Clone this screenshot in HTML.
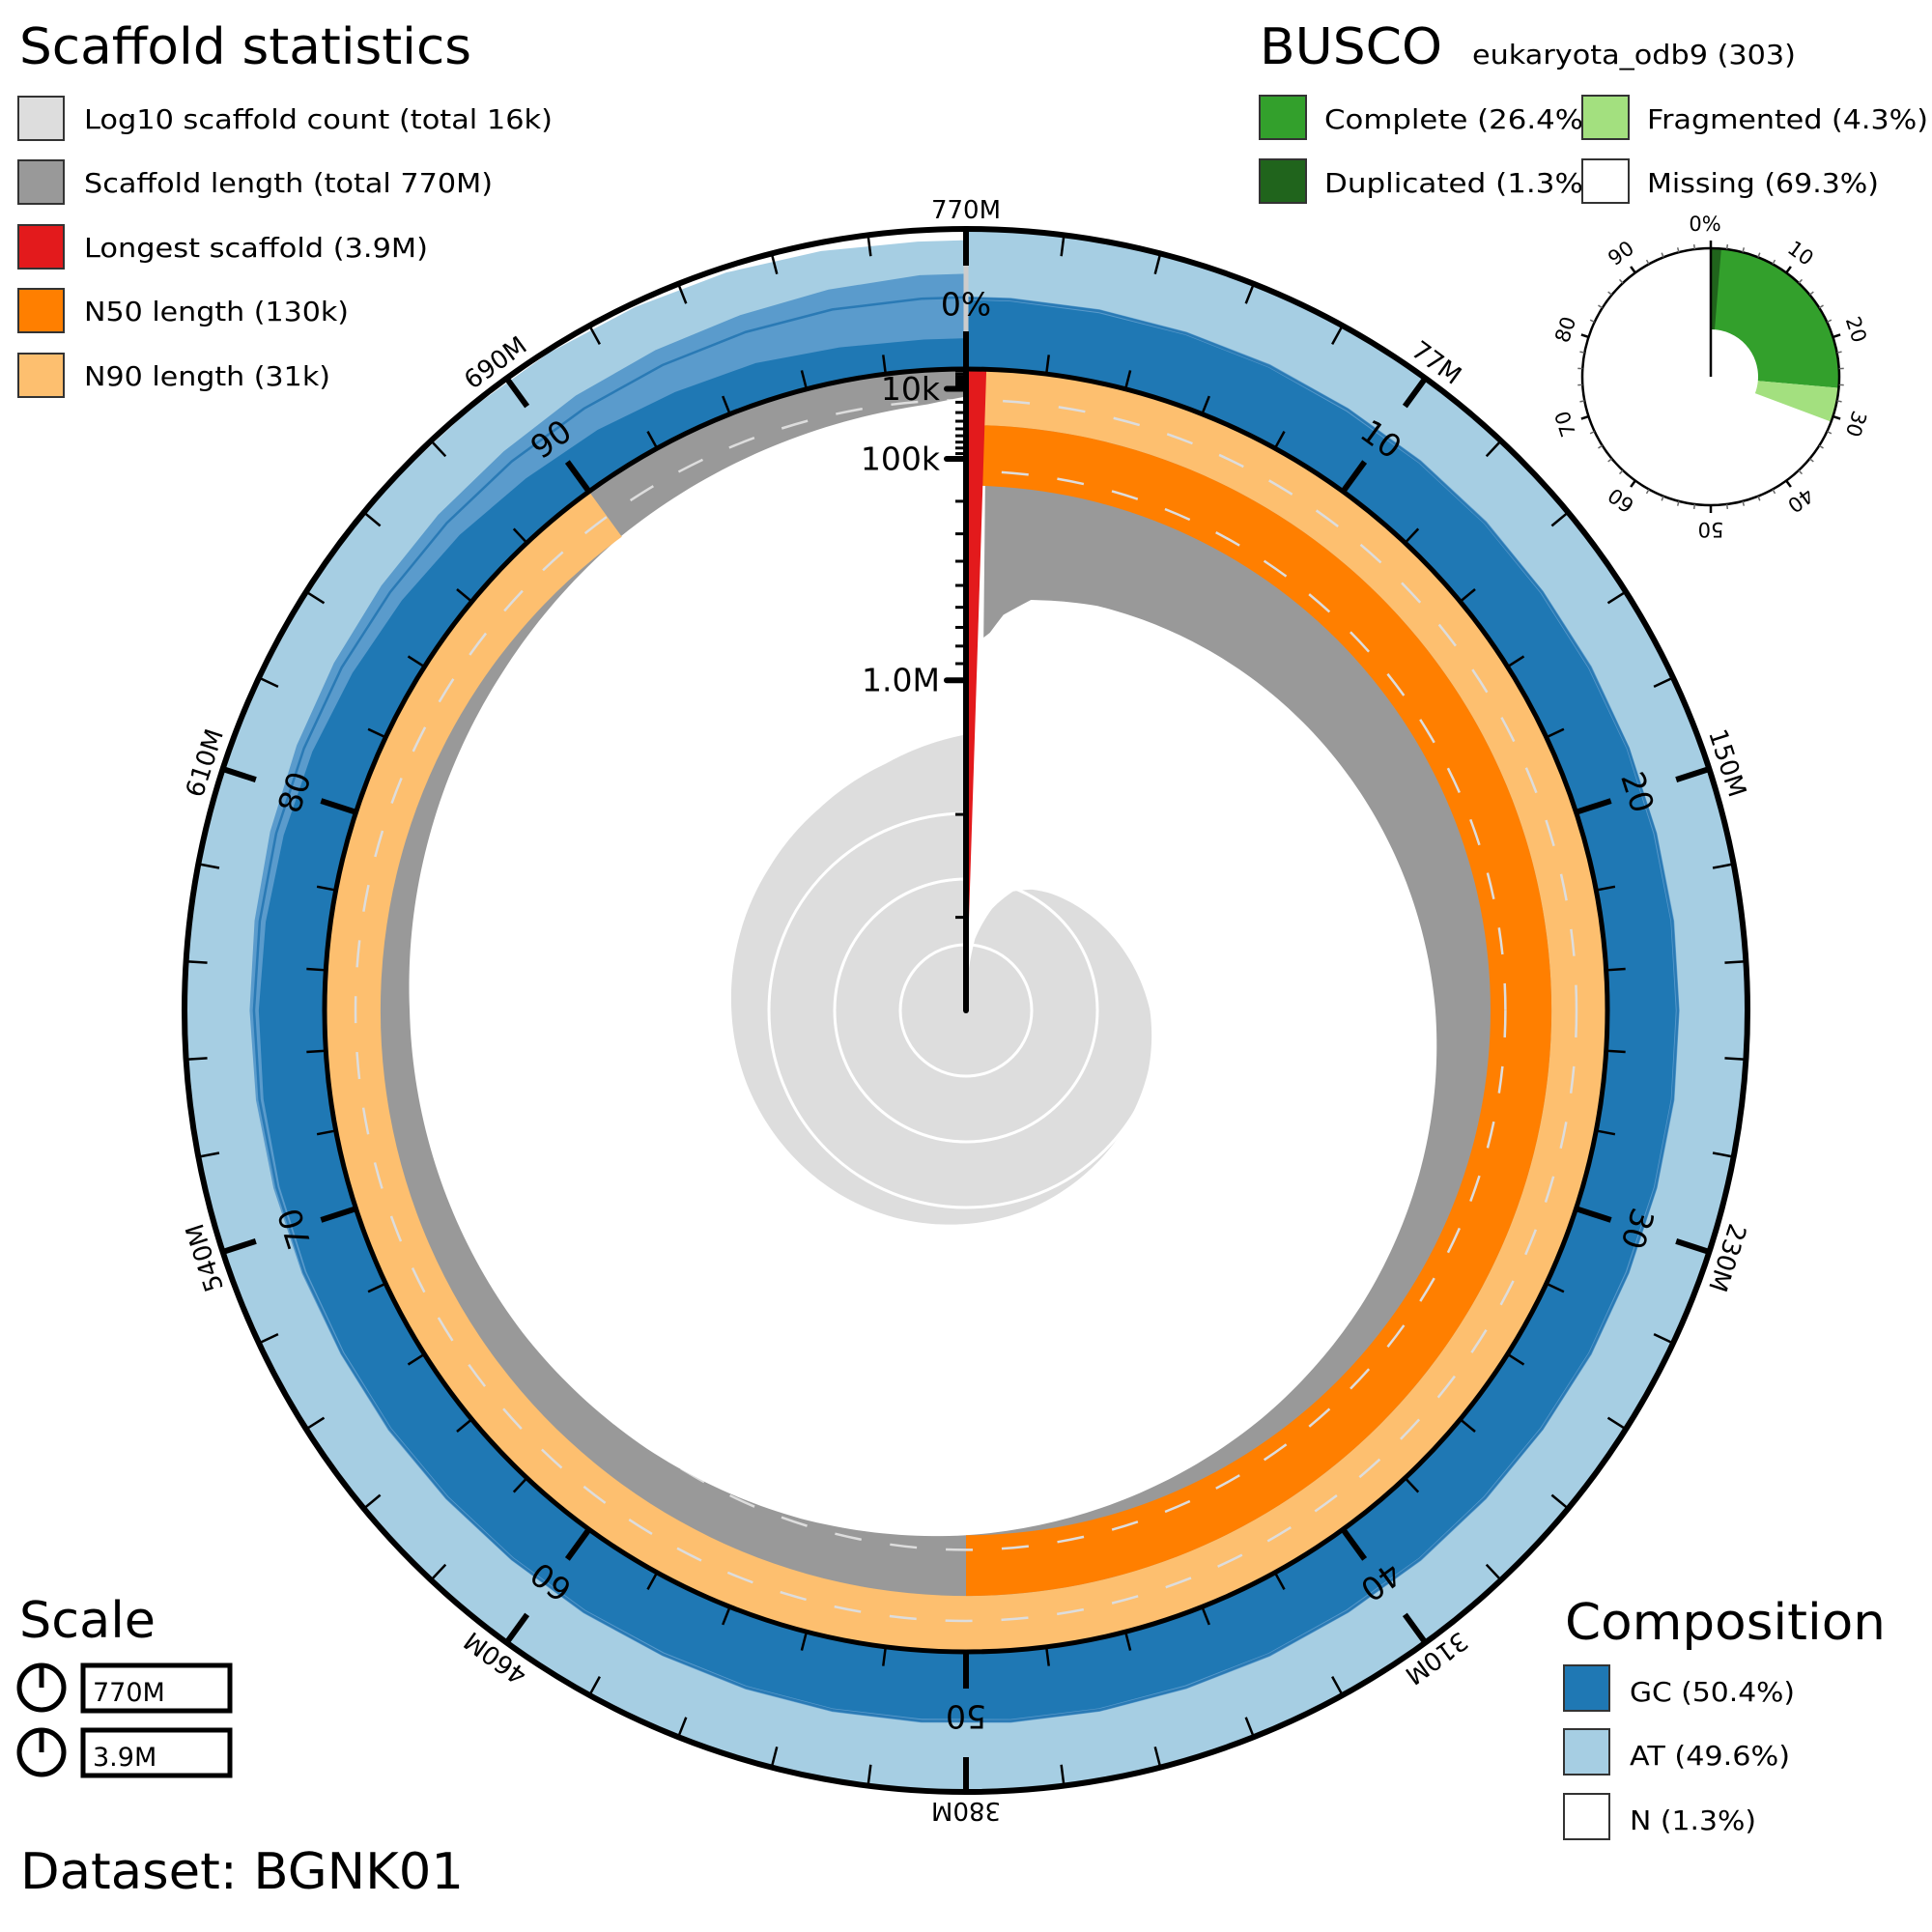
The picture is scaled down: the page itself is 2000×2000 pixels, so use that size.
<!DOCTYPE html>
<html><head><meta charset="utf-8">
<style>
html,body{margin:0;padding:0;background:#fff;}
svg{display:block;}
text{font-family:"DejaVu Sans","Liberation Sans",sans-serif;fill:#000;}
</style></head>
<body>
<svg id="chart" xmlns="http://www.w3.org/2000/svg" width="2000" height="2000" viewBox="0 0 2000 2000">
<rect width="2000" height="2000" fill="#fff"/>
<g id="plot"></g>

<g>
<text x="20" y="66" font-size="52" textLength="468" lengthAdjust="spacingAndGlyphs">Scaffold statistics</text>
<rect x="19" y="100" width="47" height="45" fill="#dddddd" stroke="#333" stroke-width="2"/>
<text x="87" y="133" font-size="28" textLength="485" lengthAdjust="spacingAndGlyphs">Log10 scaffold count (total 16k)</text>
<rect x="19" y="166" width="47" height="45" fill="#999999" stroke="#333" stroke-width="2"/>
<text x="87" y="199" font-size="28" textLength="423" lengthAdjust="spacingAndGlyphs">Scaffold length (total 770M)</text>
<rect x="19" y="233" width="47" height="45" fill="#e31a1c" stroke="#333" stroke-width="2"/>
<text x="87" y="266" font-size="28" textLength="356" lengthAdjust="spacingAndGlyphs">Longest scaffold (3.9M)</text>
<rect x="19" y="299" width="47" height="45" fill="#ff7f00" stroke="#333" stroke-width="2"/>
<text x="87" y="332" font-size="28" textLength="274" lengthAdjust="spacingAndGlyphs">N50 length (130k)</text>
<rect x="19" y="366" width="47" height="45" fill="#fdbf6f" stroke="#333" stroke-width="2"/>
<text x="87" y="399" font-size="28" textLength="255" lengthAdjust="spacingAndGlyphs">N90 length (31k)</text>
</g>

<g>
<text x="1304" y="66" font-size="52" textLength="189" lengthAdjust="spacingAndGlyphs">BUSCO</text>
<text x="1524" y="66" font-size="28" textLength="335" lengthAdjust="spacingAndGlyphs">eukaryota_odb9 (303)</text>
<text x="1371" y="133" font-size="28" textLength="280" lengthAdjust="spacingAndGlyphs">Complete (26.4%)</text>
<text x="1371" y="199" font-size="28" textLength="280" lengthAdjust="spacingAndGlyphs">Duplicated (1.3%)</text>
<rect x="1304" y="99" width="48" height="45" fill="#33a02c" stroke="#333" stroke-width="2"/>
<rect x="1304" y="165" width="48" height="45" fill="#20641c" stroke="#333" stroke-width="2"/>
<rect x="1638" y="99" width="48" height="45" fill="#a3e07f" stroke="#333" stroke-width="2"/>
<rect x="1638" y="165" width="48" height="45" fill="#ffffff" stroke="#333" stroke-width="2"/>
<text x="1705" y="133" font-size="28" textLength="291" lengthAdjust="spacingAndGlyphs">Fragmented (4.3%)</text>
<text x="1705" y="199" font-size="28" textLength="240" lengthAdjust="spacingAndGlyphs">Missing (69.3%)</text>
</g>

<g>
<text x="20" y="1695" font-size="52" textLength="141" lengthAdjust="spacingAndGlyphs">Scale</text>
<circle cx="43" cy="1747" r="23" fill="none" stroke="#000" stroke-width="5"/>
<line x1="43" y1="1747" x2="43" y2="1724" stroke="#000" stroke-width="5"/>
<rect x="86" y="1724" width="152" height="47" fill="#fff" stroke="#000" stroke-width="5"/>
<text x="96" y="1761" font-size="27">770M</text>
<circle cx="43" cy="1814" r="23" fill="none" stroke="#000" stroke-width="5"/>
<line x1="43" y1="1814" x2="43" y2="1791" stroke="#000" stroke-width="5"/>
<rect x="86" y="1791" width="152" height="47" fill="#fff" stroke="#000" stroke-width="5"/>
<text x="96" y="1828" font-size="27">3.9M</text>
</g>
<text x="21" y="1955" font-size="52" textLength="459" lengthAdjust="spacingAndGlyphs">Dataset: BGNK01</text>

<g>
<text x="1620" y="1697" font-size="52" textLength="332" lengthAdjust="spacingAndGlyphs">Composition</text>
<rect x="1619" y="1724" width="47" height="47" fill="#1f78b4" stroke="#333" stroke-width="2"/>
<text x="1687" y="1761" font-size="28" textLength="171" lengthAdjust="spacingAndGlyphs">GC (50.4%)</text>
<rect x="1619" y="1790" width="47" height="47" fill="#a6cee3" stroke="#333" stroke-width="2"/>
<text x="1687" y="1827" font-size="28" textLength="166" lengthAdjust="spacingAndGlyphs">AT (49.6%)</text>
<rect x="1619" y="1857" width="47" height="47" fill="#ffffff" stroke="#333" stroke-width="2"/>
<text x="1687" y="1894" font-size="28" textLength="131" lengthAdjust="spacingAndGlyphs">N (1.3%)</text>
</g>
<g id="busco"></g>
</svg>

<script>
// ---- data ----
const assemblyTickLabels = ["770M","77M","150M","230M","310M","380M","460M","540M","610M","690M"];
const percentTickLabels = ["0%","10","20","30","40","50","60","70","80","90"];
const longestScaffold = 3900000;
const totalLength = 770000000;
const n50Length = 130000;
const n90Length = 31000;
const lengthPct = [0.5, 0.7, 1, 1.5, 2.5, 5, 10, 15, 20, 25, 30, 35, 40, 45, 50, 55, 60, 65, 70, 75, 80, 85, 90, 95, 99, 100];
const lengthVals = [700000, 680000, 650000, 560000, 480000, 440000, 400000, 360000, 320000, 280000, 245000, 210000, 180000, 155000, 130000, 110000, 95000, 84000, 77000, 70000, 58000, 45000, 30000, 20000, 12000, 8000];
const countPct = [0, 1, 2, 4, 6, 8, 10, 15, 20, 25, 30, 35, 40, 45, 50, 55, 60, 65, 70, 75, 80, 85, 90, 95, 100];
const countLog10 = [0, 0.6, 1.1, 1.6, 1.95, 2.1, 2.2, 2.4, 2.6, 2.8, 2.92, 3.0, 3.08, 3.17, 3.25, 3.33, 3.4, 3.46, 3.52, 3.57, 3.63, 3.7, 3.8, 3.95, 4.2];
const lengthAxisMajor = [10000, 100000, 1000000];
const lengthAxisMajorLabels = ["10k", "100k", "1.0M"];
const lengthAxisMinor = [2000,3000,4000,5000,6000,7000,8000,9000,20000,30000,40000,50000,60000,70000,80000,90000,200000,300000,400000,500000,600000,700000,800000,900000,2000000,3000000];
const gcMean = [50.6,50.4,50.3,50.5,50.2,50.4,50.6,50.3,50.4,50.5,50.2,50.4,50.3,50.6,50.4,50.2,50.5,50.3,50.4,50.6,50.3,50.4,50.2,50.5,50.4,50.3,50.6,50.4,50.2,50.5,50.3,50.4,50.6,50.3,50.4,50.2,50.5,50.4,50.3,50.5,50.4,50.6,50.2,50.5,50.8,51.0,51.2,51.3,51.5,51.2];
const gcMin = [49.2,48.8,49.0,49.3,48.6,49.1,49.4,48.9,49.0,49.2,48.7,49.1,48.8,49.3,49.0,48.6,49.2,48.9,49.0,49.3,48.8,49.1,48.7,49.2,49.0,48.8,49.3,49.0,48.6,49.1,48.9,49.0,49.2,48.7,48.5,48.0,47.6,47.0,46.0,45.0,44.0,42.0,40.0,38.0,35.0,33.0,30.0,28.0,24.0,22.0];
const gcMax = [51.8,51.6,51.5,51.9,51.4,51.7,52.0,51.5,51.8,51.6,51.4,51.7,51.5,51.9,51.6,51.4,51.8,51.5,51.7,51.9,51.5,51.8,51.4,51.7,51.6,51.5,51.9,51.7,51.4,51.8,51.5,51.7,52.0,51.6,52.0,52.5,53.0,53.5,54.0,55.0,56.0,57.0,58.0,59.0,60.0,62.0,63.0,64.0,66.0,68.0];
const nPct = [0,0,0,0,0,0,0,0,0,0,0,0,0,0,0,0,0,0,0,0,0,0,0,0,0,0,0,0,0,0,0,0,0,0,0,0,0,0,0,0,0,0,0.5,1,1.5,2,3,4,6,8];
const buscoComplete = 26.4;
const buscoDuplicated = 1.3;
const buscoFragmented = 4.3;
const buscoTickLabels = ["0%","10","20","30","40","50","60","70","80","90"];

const NS = "http://www.w3.org/2000/svg";
const cx = 1000, cy = 1046, R_IN = 664, R_OUT = 809;
const plot = document.getElementById('plot');
function el(tag, attrs, parent){const e=document.createElementNS(NS,tag);for(const k in attrs)e.setAttribute(k,attrs[k]);(parent||plot).appendChild(e);return e;}
function pt(r,p,x0,y0){x0=x0===undefined?cx:x0;y0=y0===undefined?cy:y0;const a=p/100*2*Math.PI;return [x0+r*Math.sin(a), y0-r*Math.cos(a)];}
function f(v){return v.toFixed(2);}
function interp(xs,ys,x){if(x<=xs[0])return ys[0];for(let i=1;i<xs.length;i++){if(x<=xs[i]){const t=(x-xs[i-1])/(xs[i]-xs[i-1]);return ys[i-1]+t*(ys[i]-ys[i-1]);}}return ys[ys.length-1];}
function rLen(L){return Math.max(0, Math.min(R_IN, 666 - 672*Math.sqrt(L/longestScaffold)));}
function rAxis(L){return Math.max(0, Math.min(R_IN, 677 - 662*Math.sqrt(L/longestScaffold)));}
function sector(r0,r1,p0,p1,x0,y0){
  const large=(p1-p0)>50?1:0;
  const a=pt(r1,p0,x0,y0),b=pt(r1,p1,x0,y0),c=pt(r0,p1,x0,y0),d=pt(r0,p0,x0,y0);
  let s=`M${f(a[0])},${f(a[1])} A${r1},${r1} 0 ${large} 1 ${f(b[0])},${f(b[1])} `;
  if(r0>0) s+=`L${f(c[0])},${f(c[1])} A${r0},${r0} 0 ${large} 0 ${f(d[0])},${f(d[1])} Z`;
  else s+=`L${f(x0===undefined?cx:x0)},${f(y0===undefined?cy:y0)} Z`;
  return s;
}
function gcR(v){return R_IN + (R_OUT-R_IN)*v/100;}

{
  let d=`M${cx},${cy} `;
  for(let p=0;p<=100.001;p+=0.25){const r=68*interp(countPct,countLog10,p);const q=pt(r,p);d+=`L${f(q[0])},${f(q[1])} `;}
  d+='Z';
  const s=el('path',{d:d,fill:'#dddddd'});
  
  
  [1,2,3].forEach(k=>{
    const c=el('circle',{cx:cx,cy:cy,r:68*k,fill:'none',stroke:'#fff','stroke-width':3});
    
    
  });
}

const p0 = longestScaffold/totalLength*100;
let lenPath;
{
  const a=pt(R_IN,p0), b=pt(R_IN,100);
  let d=`M${f(a[0])},${f(a[1])} A${R_IN},${R_IN} 0 1 1 ${f(b[0])},${f(b[1])} `;
  for(let p=100;p>=p0-0.0001;p-=0.25){const r=rLen(interp(lengthPct,lengthVals,Math.max(p,p0)));const q=pt(r,p);d+=`L${f(q[0])},${f(q[1])} `;}
  d+='Z';
  lenPath=d;
  const g=el('path',{d:d,fill:'#999999'});
  
  
}
{
  const n90=el('path',{d:sector(rLen(n90Length),R_IN,0,90),fill:'#fdbf6f'});
  
  
  const n50=el('path',{d:sector(rLen(n50Length),rLen(n90Length),0,50),fill:'#ff7f00'});
  
  
  const lg=el('path',{d:sector(0,R_IN,0,p0),fill:'#e31a1c'});
  
  
}
{
  const defs=el('defs',{});
  const cp=el('clipPath',{id:'lenclip'},defs);
  el('path',{d:lenPath},cp);
  const g=el('g',{'clip-path':'url(#lenclip)'});
  
  
  lengthAxisMajor.forEach(v=>{
    el('circle',{cx:cx,cy:cy,r:f(rLen(v)),fill:'none',stroke:'#dddddd','stroke-width':2.5,'stroke-dasharray':'28 30'},g);
  });
}

{
  const n=gcMean.length, w=100/n;
  const centers=gcMean.map((_,i)=>(i+0.5)*w);
  function bandPath(vals, rfun){
    let d='';
    const xs=[0].concat(centers,[100]);
    const ys=[vals[0]].concat(vals,[vals[n-1]]);
    for(let p=0;p<=100.001;p+=0.5){const q=pt(R_IN,p);d+=(p===0?'M':'L')+f(q[0])+','+f(q[1])+' ';}
    for(let i=xs.length-1;i>=0;i--){const q=pt(rfun(ys[i]),xs[i]);d+=`L${f(q[0])},${f(q[1])} `;}
    return d+'Z';
  }
  const at=el('path',{d:sector(R_IN,R_OUT,0,99.999),fill:'#a6cee3'});
  
  
  const mx=el('path',{d:bandPath(gcMax,gcR),fill:'#5a9bcc'});
  
  
  const mn=el('path',{d:bandPath(gcMin,gcR),fill:'#1f78b4'});
  
  
  let d='';
  const xs=[0].concat(centers,[100]);const ys=[gcMean[0]].concat(gcMean,[gcMean[n-1]]);
  xs.forEach((x,i)=>{const q=pt(gcR(ys[i]),x);d+=(i===0?'M':'L')+f(q[0])+','+f(q[1])+' ';});
  const ml=el('path',{d:d,fill:'none',stroke:'#2a7ab5','stroke-width':2.5});
  
  
  const nb=el('path',{d:(function(){let s='';for(let p=0;p<=100.001;p+=0.5){const q=pt(R_OUT,p);s+=(p===0?'M':'L')+f(q[0])+','+f(q[1])+' ';}
    const ys2=[nPct[0]].concat(nPct,[nPct[n-1]]);
    for(let i=xs.length-1;i>=0;i--){const q=pt(R_OUT-(R_OUT-R_IN)*ys2[i]/100,xs[i]);s+=`L${f(q[0])},${f(q[1])} `;}
    return s+'Z';})(),fill:'#ffffff'});
  
  
}

{
  const o=el('circle',{cx:cx,cy:cy,r:R_OUT,fill:'none',stroke:'#000','stroke-width':6});
  
  
  const i=el('circle',{cx:cx,cy:cy,r:R_IN,fill:'none',stroke:'#000','stroke-width':5});
  
  
}
for(let k=1;k<50;k++){
  const p=k*2, major=(k%5===0);
  const a=pt(R_OUT,p), b=pt(R_OUT-(major?36:22),p);
  const t1=el('line',{x1:f(a[0]),y1:f(a[1]),x2:f(b[0]),y2:f(b[1]),stroke:'#000','stroke-width':major?6:2.5});
  
  
  const c=pt(R_IN,p), d=pt(R_IN+(major?38:20),p);
  const t2=el('line',{x1:f(c[0]),y1:f(c[1]),x2:f(d[0]),y2:f(d[1]),stroke:'#000','stroke-width':major?6:2.5});
  
  
}
{
  const g1=el('line',{x1:cx,y1:cy-703,x2:cx,y2:cy-771,stroke:'#cccccc','stroke-width':5});
  
  
  const z1=el('line',{x1:cx,y1:cy-771,x2:cx,y2:cy-R_OUT,stroke:'#000','stroke-width':6});
  
  
  const z2=el('line',{x1:cx,y1:cy-R_IN,x2:cx,y2:cy-703,stroke:'#000','stroke-width':6});
  
  
}
assemblyTickLabels.forEach((lab,i)=>{
  const p=i*10, q=pt(828,p);
  const t=el('text',{x:f(q[0]),y:f(q[1]),'font-size':26,'text-anchor':'middle','dominant-baseline':'central',transform:`rotate(${p*3.6} ${f(q[0])} ${f(q[1])})`});
  t.textContent=lab;
  
  
});
percentTickLabels.forEach((lab,i)=>{
  const p=i*10, q=pt(731,p);
  const t=el('text',{x:f(q[0]),y:f(q[1]),'font-size':33,'text-anchor':'middle','dominant-baseline':'central',transform:`rotate(${p*3.6} ${f(q[0])} ${f(q[1])})`});
  t.textContent=lab;
  
  
});

{
  const ax=el('line',{x1:cx,y1:cy,x2:cx,y2:cy-R_IN,stroke:'#000','stroke-width':6,'stroke-linecap':'round'});
  
  
  lengthAxisMinor.forEach(v=>{
    const y=cy-rAxis(v);
    const t=el('line',{x1:cx,y1:f(y),x2:cx-11,y2:f(y),stroke:'#000','stroke-width':3});
    
    
  });
  lengthAxisMajor.forEach((v,i)=>{
    const y=cy-rAxis(v);
    const t=el('line',{x1:cx,y1:f(y),x2:cx-20,y2:f(y),stroke:'#000','stroke-width':6,'stroke-linecap':'round'});
    
    
    const l=el('text',{x:cx-27,y:f(y),'font-size':33,'text-anchor':'end','dominant-baseline':'central'});
    l.textContent=lengthAxisMajorLabels[i];
    
    
  });
}

{
  const g=document.getElementById('busco');
  const bx=1771, by=390, r0=49, r1=133;
  const c=el('path',{d:sector(r0,r1,0,buscoComplete,bx,by),fill:'#33a02c'},g);
  
  
  const dp=el('path',{d:sector(r0,r1,0,buscoDuplicated,bx,by),fill:'#20641c'},g);
  
  
  const fr=el('path',{d:sector(r0,r1,buscoComplete,buscoComplete+buscoFragmented,bx,by),fill:'#a3e07f'},g);
  
  
  const circ=el('circle',{cx:bx,cy:by,r:r1,fill:'none',stroke:'#000','stroke-width':2.5},g);
  
  
  for(let k=1;k<50;k++){
    const p=k*2, major=k%5===0;
    const a=pt(r1,p,bx,by), b=pt(r1+(major?8:5),p,bx,by);
    const t=el('line',{x1:f(a[0]),y1:f(a[1]),x2:f(b[0]),y2:f(b[1]),stroke:major?'#000':'#666','stroke-width':major?2.5:1.5},g);
    
    
  }
  const ax=el('line',{x1:bx,y1:by,x2:bx,y2:by-r1-8,stroke:'#000','stroke-width':2.5},g);
  
  
  buscoTickLabels.forEach((lab,i)=>{
    const p=i*10; let q=pt(158,p,bx,by);
    if(i===0) q=[bx-6,by-158];
    const t=el('text',{x:f(q[0]),y:f(q[1]),'font-size':21,'text-anchor':'middle','dominant-baseline':'central',transform:`rotate(${p*3.6} ${f(q[0])} ${f(q[1])})`},g);
    t.textContent=lab;
    
    
  });
}
</script>
</body></html>
